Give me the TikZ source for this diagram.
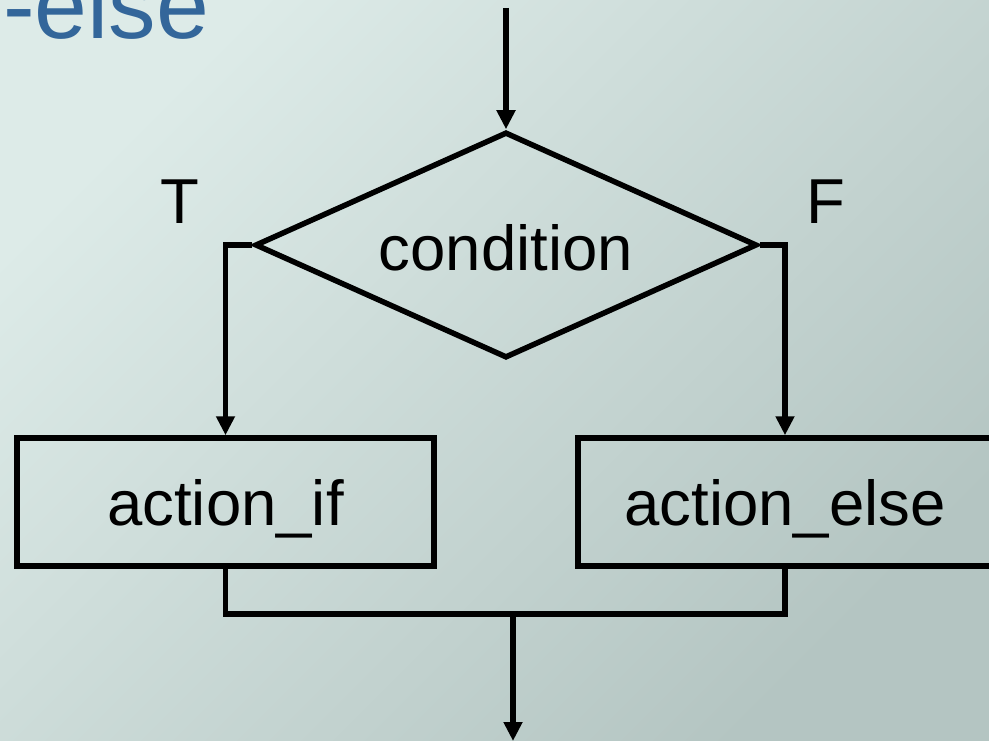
\documentclass[tikz,border=0pt]{standalone}
\usepackage{fontspec}
\setmainfont{Liberation Sans}
\usetikzlibrary{shapes.geometric,arrows.meta}

\definecolor{bgTL}{HTML}{DDEBE8}
\definecolor{bgBR}{HTML}{B4C5C2}
\definecolor{titleblue}{HTML}{33669A}

\tikzset{
  flowline/.style={line width=5.5pt, line join=miter, draw=black},
  arr/.style={flowline, -{Triangle[length=19pt,width=18pt]}},
  actionbox/.style={flowline, rectangle, minimum width=417pt, minimum height=128pt, inner sep=0pt},
  decision/.style={flowline, diamond, minimum width=502pt, minimum height=226pt, inner sep=0pt},
  lbl/.style={font=\fontsize{63.5}{70}\selectfont, inner sep=0pt},
  titletext/.style={font=\fontsize{95}{100}\selectfont, text=titleblue, inner sep=0pt}
}

\begin{document}
\begin{tikzpicture}[x=1pt, y=-1pt]
  \useasboundingbox (0,0) rectangle (989,741);
  \clip (0,0) rectangle (989,741);
  % diagonal backdrop, light at the upper left
  \shade[top color=bgTL, bottom color=bgBR, shading angle=45]
    (0,0) rectangle (989,741);

  % heading
  \node[titletext, anchor=base west] (title) at (3,39) {-else};

  % decision and the two actions
  \node[decision] (cond) at (506,245) {};
  \node[lbl, anchor=base] (condtext) at ([yshift=-25pt]cond.center) {condition};
  \node[lbl, anchor=base] (tlabel) at (180,223) {T};
  \node[lbl, anchor=base] (flabel) at (826,223) {F};

  \node[actionbox] (ifbox) at (225.5,502) {};
  \node[lbl, anchor=base] (iftext) at ([yshift=-23pt]ifbox.center) {action\_if};
  \node[actionbox, minimum width=414pt] (elsebox) at (785,502) {};
  \node[lbl, anchor=base] (elsetext) at ([yshift=-23pt]elsebox.center) {action\_else};

  % connectors
  \coordinate (entry) at (506,8);
  \coordinate (join) at (513,614);
  \coordinate (exit) at (513,741);

  \draw[arr] (entry) -- (cond.north);
  \draw[arr] (cond.west) -| (ifbox.north);
  \draw[arr] (cond.east) -| (elsebox.north);
  \draw[flowline] (ifbox.south) |- (join) -| (elsebox.south);
  \draw[arr] (join) -- (exit);
\end{tikzpicture}
\end{document}
